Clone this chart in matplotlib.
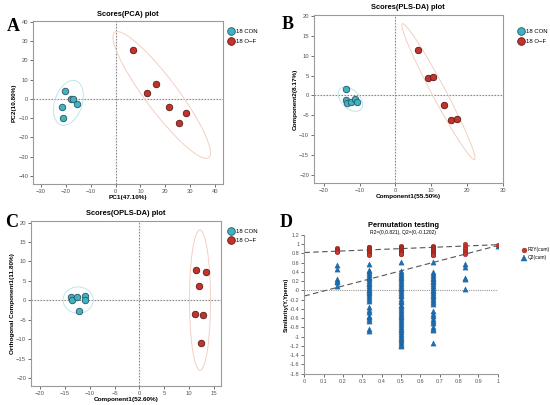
import numpy as np
import matplotlib
matplotlib.use("Agg")
import matplotlib.pyplot as plt
from matplotlib.patches import Ellipse
from matplotlib.lines import Line2D

plt.rcParams["font.family"] = ["Liberation Sans", "DejaVu Sans"]

# --- score plot data ---
GROUPS = ["18 CON", "18 O\u2212F"]

pca_con_x = [-20.5, -17.9, -17.0, -21.7, -15.7, -21.1]
pca_con_y = [4.0, 0.2, 0.2, -4.3, -2.6, -9.9]
pca_of_x = [7.1, 16.4, 12.6, 21.5, 28.2, 25.5]
pca_of_y = [25.3, 7.6, 3.1, -4.2, -7.1, -12.5]

pls_con_x = [-13.9, -13.9, -13.5, -12.4, -11.2, -10.7]
pls_con_y = [1.5, -1.1, -1.8, -1.6, -1.0, -1.7]
pls_of_x = [6.2, 9.0, 10.5, 13.7, 15.4, 17.3]
pls_of_y = [11.4, 4.3, 4.6, -2.4, -6.2, -5.9]

opls_con_x = [-13.8, -13.6, -12.5, -11.0, -10.9, -12.2]
opls_con_y = [0.9, 0.0, 0.9, 1.1, 0.2, -2.6]
opls_of_x = [11.3, 13.4, 11.9, 11.2, 12.8, 12.4]
opls_of_y = [7.7, 7.3, 3.6, -3.5, -3.8, -10.9]

# --- permutation test data ---
perm_x = [1 / 6, 2 / 6, 3 / 6, 4 / 6, 5 / 6, 1.0]
r2_vals = [
    [0.92, 0.90, 0.88, 0.86, 0.85, 0.84],
    [0.94, 0.93, 0.91, 0.89, 0.88, 0.86, 0.84, 0.82, 0.80, 0.78, 0.76],
    [0.96, 0.95, 0.94, 0.93, 0.92, 0.91, 0.90, 0.89, 0.88, 0.87, 0.86,
     0.85, 0.84, 0.83, 0.82, 0.81, 0.80, 0.79, 0.78],
    [0.96, 0.95, 0.93, 0.92, 0.90, 0.89, 0.87, 0.86, 0.84, 0.83, 0.81,
     0.79, 0.77, 0.76],
    [1.00, 0.93, 0.90, 0.86, 0.82, 0.79],
    [0.99],
]
q2_vals = [
    [0.56, 0.47, 0.24, 0.21, 0.19, 0.10],
    [0.58, 0.45, 0.42, 0.38, 0.33, 0.30, 0.27, 0.24, 0.20, 0.17, 0.14,
     0.10, 0.06, 0.02, 0.0, -0.03, -0.06, -0.10, -0.14, -0.18, -0.22,
     -0.36, -0.42, -0.46, -0.55, -0.58, -0.62, -0.65, -0.83, -0.87],
    [0.62, 0.42, 0.38, 0.34, 0.30, 0.27, 0.22, 0.18, 0.15, 0.10, 0.06,
     0.03, -0.02, -0.06, -0.10, -0.13, -0.18, -0.22, -0.26, -0.31, -0.34,
     -0.38, -0.43, -0.46, -0.50, -0.55, -0.58, -0.62, -0.66, -0.71, -0.74,
     -0.78, -0.83, -0.86, -0.90, -0.94, -0.98, -1.03, -1.06, -1.10, -1.14,
     -1.18, -1.21],
    [0.62, 0.40, 0.36, 0.32, 0.28, 0.25, 0.21, 0.18, 0.14, 0.10, 0.06,
     0.02, -0.02, -0.05, -0.09, -0.13, -0.17, -0.21, -0.25, -0.30, -0.45,
     -0.50, -0.56, -0.62, -0.66, -0.70, -0.80, -0.84, -0.86, -1.13],
    [0.58, 0.51, 0.28, 0.24, 0.03],
    [0.97],
]
r2_intercept = 0.821
q2_intercept = -0.1202

CON_FILL = "#3fb3c3"
CON_EDGE = "#2b5560"
CON_ELL = "#bfe5ec"
OF_FILL = "#c2332b"
OF_EDGE = "#5e1a15"
OF_ELL = "#f3cfc2"
SPINE = "#9a9a9a"
TICK = "#555555"


def conf_ellipse(ax, x, y, color):
    # 95% normal-theory ellipse from the group covariance
    x = np.asarray(x)
    y = np.asarray(y)
    vals, vecs = np.linalg.eigh(np.cov(x, y))
    k = np.sqrt(5.991)
    angle = np.degrees(np.arctan2(vecs[1, 1], vecs[0, 1]))
    ax.add_patch(Ellipse((x.mean(), y.mean()), 2 * k * np.sqrt(vals[1]),
                         2 * k * np.sqrt(vals[0]), angle=angle,
                         facecolor="none", edgecolor=color, linewidth=0.7, zorder=2))


def style_axes(ax, box=True):
    for side, sp in ax.spines.items():
        sp.set_color(SPINE)
        sp.set_linewidth(0.8)
        if not box and side in ("top", "right"):
            sp.set_visible(False)
    ax.tick_params(labelsize=4.2, colors=TICK, length=2, width=0.6, pad=1.5)


def score_panel(rect, title, xlabel, ylabel, con, of, xlim, ylim, xticks, yticks,
                letter, letter_xy, legend_xy):
    ax = fig.add_axes(rect)
    conf_ellipse(ax, con[0], con[1], CON_ELL)
    conf_ellipse(ax, of[0], of[1], OF_ELL)
    ax.axhline(0, color="#888888", linestyle=(0, (1.5, 1.2)), linewidth=0.8, zorder=1.5)
    ax.axvline(0, color="#888888", linestyle=(0, (1.5, 1.2)), linewidth=0.8, zorder=1.5)
    ax.scatter(con[0], con[1], s=22, color=CON_FILL, edgecolor=CON_EDGE,
               linewidth=0.6, zorder=3)
    ax.scatter(of[0], of[1], s=22, color=OF_FILL, edgecolor=OF_EDGE,
               linewidth=0.6, zorder=3)
    ax.set_xlim(*xlim)
    ax.set_ylim(*ylim)
    ax.set_xticks(xticks)
    ax.set_yticks(yticks)
    ax.set_title(title, fontsize=5.4, fontweight="bold", pad=4)
    ax.set_xlabel(xlabel, fontsize=4.6, fontweight="bold", labelpad=1)
    ax.set_ylabel(ylabel, fontsize=4.6, fontweight="bold", labelpad=1)
    style_axes(ax)
    handles = [
        Line2D([], [], marker="o", linestyle="none", markersize=5.5,
               markerfacecolor=CON_FILL, markeredgecolor=CON_EDGE, markeredgewidth=0.6),
        Line2D([], [], marker="o", linestyle="none", markersize=5.5,
               markerfacecolor=OF_FILL, markeredgecolor=OF_EDGE, markeredgewidth=0.6),
    ]
    fig.legend(handles, GROUPS, loc="upper left", bbox_to_anchor=legend_xy,
               frameon=False, fontsize=4.3, handletextpad=0.2, labelspacing=0.75,
               borderpad=0, handlelength=1.2)
    fig.text(letter_xy[0], letter_xy[1], letter, fontsize=13, fontweight="bold",
             family="Liberation Serif", va="center")
    return ax


fig = plt.figure(figsize=(5.5, 4.05), dpi=100)

score_panel([0.0606, 0.5457, 0.3444, 0.4017], "Scores(PCA) plot", "PC1(47.10%)",
            "PC2(10.80%)", (pca_con_x, pca_con_y), (pca_of_x, pca_of_y),
            (-33.1, 43.1), (-44.2, 40.3), range(-30, 41, 10), range(-40, 41, 10),
            "A", (0.013, 0.935), (0.408, 0.935))

score_panel([0.5709, 0.5481, 0.3431, 0.4148], "Scores(PLS-DA) plot",
            "Component1(55.50%)", "Component2(8.17%)",
            (pls_con_x, pls_con_y), (pls_of_x, pls_of_y),
            (-22.8, 30.0), (-22.0, 20.2), range(-20, 31, 10), range(-20, 21, 5),
            "B", (0.512, 0.94), (0.935, 0.935))

score_panel([0.0564, 0.0477, 0.3455, 0.4067], "Scores(OPLS-DA) plot",
            "Component1(52.60%)", "Orthogonal Component1(11.80%)",
            (opls_con_x, opls_con_y), (opls_of_x, opls_of_y),
            (-21.8, 16.4), (-21.9, 20.4), range(-20, 16, 5), range(-20, 21, 5),
            "C", (0.01, 0.45), (0.408, 0.443))

# --- Panel D: permutation test ---
axd = fig.add_axes([0.5533, 0.0773, 0.3516, 0.3425])
axd.plot([0, 1], [0, 0], color="#999999", linestyle=(0, (1, 1)), linewidth=0.8, zorder=1)
axd.plot([0, 1], [r2_intercept, r2_vals[-1][0]], color="#555555",
         linestyle=(0, (5, 3)), linewidth=0.8, zorder=1)
axd.plot([0, 1], [q2_intercept, q2_vals[-1][0]], color="#555555",
         linestyle=(0, (5, 3)), linewidth=0.8, zorder=1)
for xv, r2s, q2s in zip(perm_x, r2_vals, q2_vals):
    axd.scatter([xv] * len(q2s), q2s, marker="^", s=14, color="#1f6fb4",
                edgecolor="#1a5f9c", linewidth=0.3, zorder=3)
    axd.scatter([xv] * len(r2s), r2s, marker="o", s=11, color="#c8382e",
                edgecolor="#8a1f18", linewidth=0.3, zorder=3)
axd.set_xlim(0, 1)
axd.set_ylim(-1.8, 1.2)
xt = np.round(np.arange(0, 1.01, 0.1), 1)
yt = np.round(np.arange(-1.8, 1.21, 0.2), 1)
axd.set_xticks(xt)
axd.set_xticklabels([f"{v:g}" for v in xt])
axd.set_yticks(yt)
axd.set_yticklabels([f"{v:g}" for v in yt])
axd.set_ylabel("Similarity(Y,Yperm)", fontsize=4.3, fontweight="bold", labelpad=1)
style_axes(axd, box=False)
axd.tick_params(labelsize=4)
fig.text(0.733, 0.442, "Permutation testing", fontsize=5.4, fontweight="bold",
         ha="center", va="center")
fig.text(0.733, 0.425, "R2=(0,0.821), Q2=(0,-0.1202)", fontsize=3.6,
         ha="center", va="center")
handles_d = [
    Line2D([], [], marker="o", linestyle="none", markersize=3.5,
           markerfacecolor="#c8382e", markeredgecolor="#8a1f18", markeredgewidth=0.3),
    Line2D([], [], marker="^", linestyle="none", markersize=3.8,
           markerfacecolor="#1f6fb4", markeredgecolor="#1a5f9c", markeredgewidth=0.3),
]
fig.legend(handles_d, ["R2Y(cum)", "Q2(cum)"], loc="upper left",
           bbox_to_anchor=(0.944, 0.395), frameon=False, fontsize=3.5,
           handletextpad=0.2, labelspacing=0.6, borderpad=0, handlelength=1.0)
fig.text(0.509, 0.45, "D", fontsize=13, fontweight="bold",
         family="Liberation Serif", va="center")

fig.savefig("out.png", dpi=100)
